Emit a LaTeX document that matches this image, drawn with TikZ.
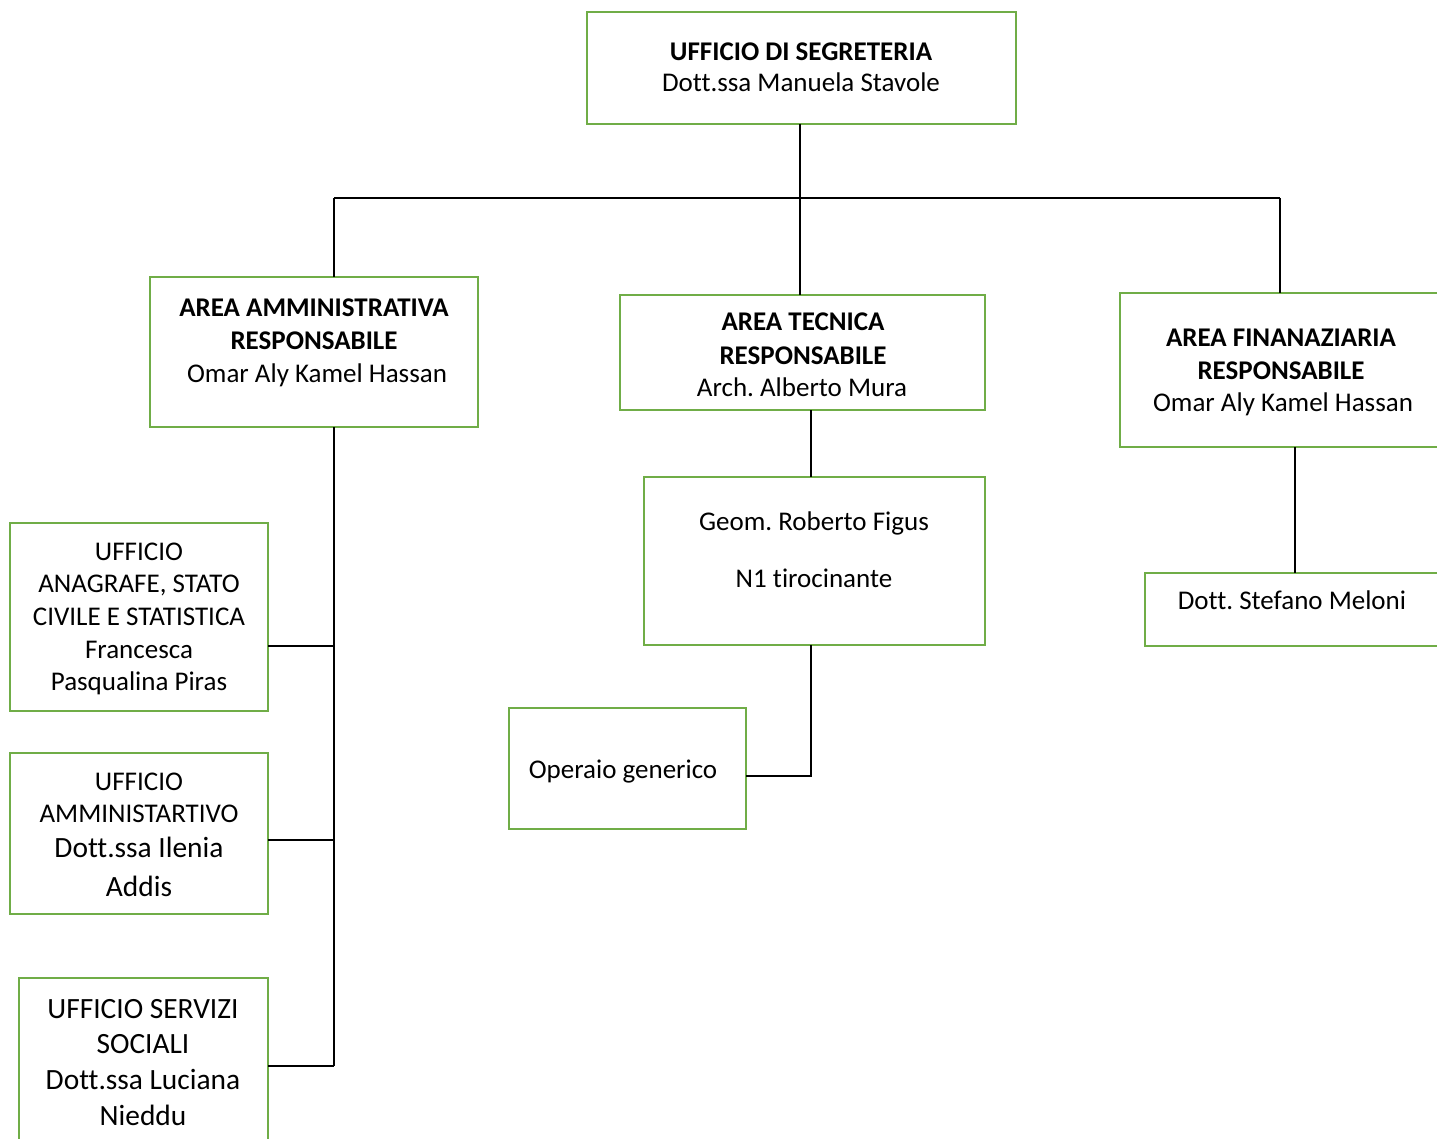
\documentclass[tikz,border=0pt]{standalone}
\usepackage{fontspec}
\setmainfont{Carlito}[Ligatures=NoCommon]
\definecolor{gr}{HTML}{70AD47}
\frenchspacing
\begin{document}
\begin{tikzpicture}[x=1pt,y=-1pt,
  box/.style={draw=gr, line width=2.6pt, inner sep=0pt, outer sep=0pt, rectangle},
  tn/.style={anchor=base, inner sep=0pt, font=\fontsize{27}{32}\selectfont},
  tb/.style={anchor=base, inner sep=0pt, font=\fontsize{27}{32}\selectfont\bfseries},
  tl/.style={anchor=base, inner sep=0pt, font=\fontsize{29.4}{35}\selectfont},
  conn/.style={draw=black, line width=1.3pt}]
\useasboundingbox (0,0) rectangle (1437,1139);
\fill[white] (0,0) rectangle (1437,1139);
\clip (0,0) rectangle (1437,1139);
% boxes
\node[box, minimum width=429pt, minimum height=112pt] (top) at (801.5,68) {};
\node[box, minimum width=328pt, minimum height=150pt] (admin) at (314,352) {};
\node[box, minimum width=365pt, minimum height=115pt] (tec) at (802.5,352.5) {};
\node[box, minimum width=330pt, minimum height=154pt] (fin) at (1285,370) {};
\node[box, minimum width=341pt, minimum height=168pt] (geom) at (814.5,561) {};
\node[box, minimum width=305pt, minimum height=73pt] (stef) at (1297.5,609.5) {};
\node[box, minimum width=237pt, minimum height=121pt] (oper) at (627.5,768.5) {};
\node[box, minimum width=258pt, minimum height=188pt] (anag) at (139,617) {};
\node[box, minimum width=258pt, minimum height=161pt] (ammi) at (139,833.5) {};
\node[box, minimum width=249pt, minimum height=172pt] (soc) at (143.5,1064) {};
% texts
\node[tb] (t1) at (801,61) {UFFICIO DI SEGRETERIA};
\node[tn] (t2) at (801,92) {Dott.ssa Manuela Stavole};
\node[tb] (a1) at (314,317) {AREA AMMINISTRATIVA};
\node[tb] (a2) at (314,349) {RESPONSABILE};
\node[tn] (a3) at (317,382) {Omar Aly Kamel Hassan};
\node[tb] (c1) at (803,331) {AREA TECNICA};
\node[tb] (c2) at (803,364) {RESPONSABILE};
\node[tn] (c3) at (802,396) {Arch. Alberto Mura};
\node[tb] (f1) at (1281,347) {AREA FINANAZIARIA};
\node[tb] (f2) at (1281,379) {RESPONSABILE};
\node[tn] (f3) at (1283,411) {Omar Aly Kamel Hassan};
\node[tn] (g1) at (814,530) {Geom. Roberto Figus};
\node[tn] (g2) at (814,587) {N1 tirocinante};
\node[tn] (s1) at (1292,609) {Dott. Stefano Meloni};
\node[tn] (o1) at (623,778) {Operaio generico};
\node[tn] (n1) at (139,560) {UFFICIO};
\node[tn] (n2) at (139,592) {ANAGRAFE, STATO};
\node[tn] (n3) at (139,625) {CIVILE E STATISTICA};
\node[tn] (n4) at (139,658) {Francesca};
\node[tn] (n5) at (139,690) {Pasqualina Piras};
\node[tn] (m1) at (139,790) {UFFICIO};
\node[tn] (m2) at (139,822) {AMMINISTARTIVO};
\node[tl] (m3) at (139,857) {Dott.ssa Ilenia};
\node[tl] (m4) at (139,896) {Addis};
\node[tl] (p1) at (143,1018) {UFFICIO SERVIZI};
\node[tl] (p2) at (143,1053) {SOCIALI};
\node[tl] (p3) at (143,1089) {Dott.ssa Luciana};
\node[tl] (p4) at (143,1125) {Nieddu};
% connectors
\coordinate (hl) at (334,198);
\coordinate (hr) at (1280,198);
\coordinate (tx) at (800,124);
\coordinate (av) at (334,1066);
\coordinate (gv) at (811,776);
\coordinate (fx) at (1295,447);
\draw[conn] (tx) -- (tx |- tec.north);
\draw[conn] (hl) -- (hr);
\draw[conn] (hl) -- (hl |- admin.north);
\draw[conn] (hr) -- (hr |- fin.north);
\draw[conn] (av |- admin.south) -- (av);
\draw[conn] (anag.east |- 0,646) -- (av |- 0,646);
\draw[conn] (ammi.east |- 0,840) -- (av |- 0,840);
\draw[conn] (soc.east |- av) -- (av);
\draw[conn] (gv |- tec.south) -- (gv |- geom.north);
\draw[conn] (gv |- geom.south) -- (gv) -- (oper.east |- gv);
\draw[conn] (fx) -- (fx |- stef.north);
\end{tikzpicture}
\end{document}
